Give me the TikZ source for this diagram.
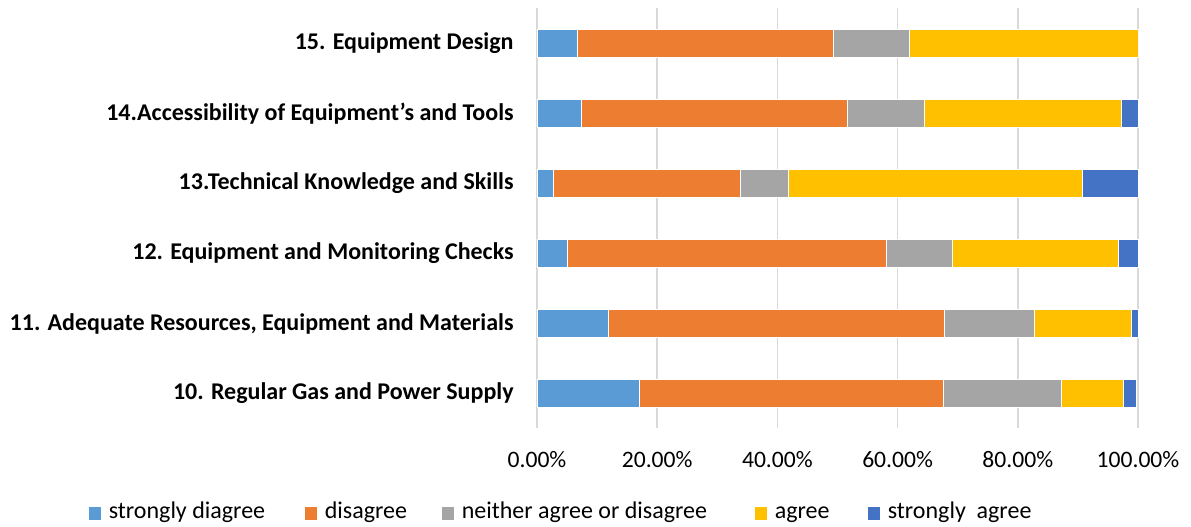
\documentclass[tikz,border=0pt]{standalone}
\usepackage{fontspec}
\setmainfont{Carlito}
\usetikzlibrary{positioning}
\definecolor{sdis}{HTML}{5B9BD5}
\definecolor{dis}{HTML}{ED7D31}
\definecolor{neut}{HTML}{A5A5A5}
\definecolor{agr}{HTML}{FFC000}
\definecolor{sagr}{HTML}{4472C4}
\definecolor{gridgray}{HTML}{D9D9D9}
\begin{document}
\begin{tikzpicture}[
  x=0.5pt, y=-0.5pt,
  seg/.style={draw=white, line width=0.4pt},
  gridline/.style={draw=gridgray, line width=0.75pt},
  catlabel/.style={anchor=east, inner sep=0pt, font=\bfseries\fontsize{12}{14}\selectfont},
  ticklabel/.style={inner sep=0pt, font=\fontsize{11.8}{14}\selectfont},
  key/.style={rectangle, inner sep=0pt, minimum width=6pt, minimum height=6.5pt},
  keytext/.style={anchor=west, inner sep=0pt, text height=1.6ex, text depth=0.45ex, font=\fontsize{12}{14}\selectfont}
]
\useasboundingbox (0,0) rectangle (1191,526);

\begin{scope}[shift={(537,0)}, xscale=6.01]
% Gridlines
\foreach \p in {0,20,...,100}
  \draw[gridline] (\p,8) -- (\p,428);

% Stacked bars
\foreach \yc/\a/\b/\c/\d/\e in {43.5/6.8/49.4/62.0/100/100, 113.5/7.4/51.7/64.4/97.3/100,
    183.5/2.8/33.8/41.8/90.8/100, 253.5/5.1/58.1/69.1/96.8/100,
    323.5/11.9/67.8/82.7/98.9/100, 393.5/17.1/67.6/87.2/97.6/99.8} {
  \filldraw[seg, fill=sdis] (0,\yc-14) rectangle (\a,\yc+14);
  \filldraw[seg, fill=dis] (\a,\yc-14) rectangle (\b,\yc+14);
  \filldraw[seg, fill=neut] (\b,\yc-14) rectangle (\c,\yc+14);
  \filldraw[seg, fill=agr] (\c,\yc-14) rectangle (\d,\yc+14);
  \filldraw[seg, fill=sagr] (\d,\yc-14) rectangle (\e,\yc+14);
}

% Axis labels
\foreach \p in {0,20,...,100}
  \node[ticklabel] (t\p) at (\p,460) {\p.00\%};
\end{scope}

% Category labels
\node[catlabel] (lab15) at (514,43.5) {15. Equipment Design};
\node[catlabel] (lab14) at (514,113.5) {14.Accessibility of Equipment’s and Tools};
\node[catlabel] (lab13) at (514,183.5) {13.Technical Knowledge and Skills};
\node[catlabel] (lab12) at (514,253.5) {12. Equipment and Monitoring Checks};
\node[catlabel] (lab11) at (514,323.5) {11. Adequate Resources, Equipment and Materials};
\node[catlabel] (lab10) at (514,393.5) {10. Regular Gas and Power Supply};

% Legend
\node[key, fill=sdis] (key1) at (95,513) {};
\node[keytext, right=3.5pt of key1] (leg1) {strongly diagree};
\node[key, fill=dis] (key2) at (311,513) {};
\node[keytext, right=3.5pt of key2] (leg2) {disagree};
\node[key, fill=neut] (key3) at (448,513) {};
\node[keytext, right=3.5pt of key3] (leg3) {neither agree or disagree};
\node[key, fill=agr] (key4) at (761,513) {};
\node[keytext, right=3.5pt of key4] (leg4) {agree};
\node[key, fill=sagr] (key5) at (874,513) {};
\node[keytext, right=3.5pt of key5] (leg5) {strongly~ agree};
\end{tikzpicture}
\end{document}
